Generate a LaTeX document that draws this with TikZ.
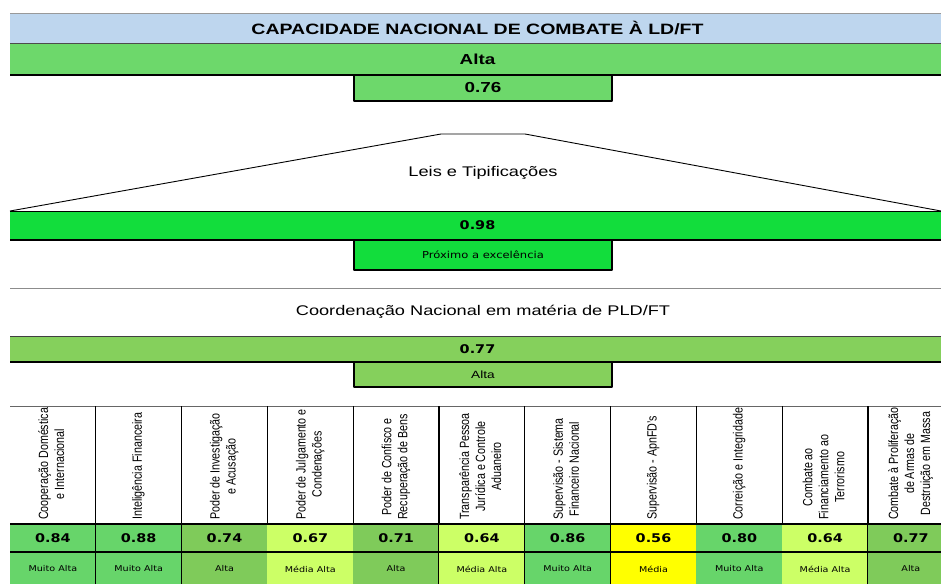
\documentclass[tikz,border=0pt]{standalone}
\usepackage{fontspec}
\setmainfont{Liberation Sans}
\newfontfamily\largo[FakeStretch=1.3]{Liberation Sans}
\newfontfamily\verd[FakeStretch=1.2]{DejaVu Sans}
\usetikzlibrary{positioning}
\definecolor{azul}{HTML}{BED6EE}
\definecolor{verdeT}{HTML}{6DD86B}
\definecolor{verdeL}{HTML}{12DD3C}
\definecolor{verdeC}{HTML}{85D05C}
\definecolor{muitoalta}{HTML}{67D56A}
\definecolor{alta}{HTML}{7FCB5A}
\definecolor{mediaalta}{HTML}{CCFF66}
\definecolor{media}{HTML}{FFFF00}
\tikzset{
  faixa/.style={anchor=north west, minimum width=935pt, inner sep=0pt, outer sep=0pt},
  caixa/.style={draw=black, line width=1.2pt, anchor=north west, minimum width=258pt, inner sep=0pt, outer sep=0pt},
  titulo/.style={font=\largo\fontsize{14}{17}\selectfont},
  negrito/.style={font=\largo\bfseries\fontsize{14.5}{17}\selectfont},
  valor/.style={font=\verd\bfseries\fontsize{12}{14}\selectfont},
  vert/.style={rotate=90, anchor=west, inner sep=1pt, font=\fontsize{10.7}{12.8}\selectfont},
}
\newcommand\cabtexto[1]{\scalebox{1}[1.25]{\begin{tabular}{@{}c@{}}#1\end{tabular}}}
\begin{document}
\begin{tikzpicture}[x=1pt, y=-1pt, line join=round]
  \useasboundingbox[fill=white] (0,0) rectangle (941,584);
  % cabecalho
  \node[faixa, negrito, fill=azul, minimum height=30pt, font=\largo\bfseries\fontsize{15}{17}\selectfont] (cap) at (10,13) {CAPACIDADE NACIONAL DE COMBATE À LD/FT};
  \node[faixa, negrito, fill=verdeT, minimum height=32pt] (nivel) at (10,43) {Alta};
  \draw[black!40] (cap.north west) -- (cap.north east);
  \draw[black!70] (cap.south west) -- (cap.south east);
  \draw[line width=1.2pt] (nivel.south west) -- (nivel.south east);
  \node[caixa, negrito, fill=verdeT, minimum height=26pt] (indice) at (354,75) {0.76};
  % leis
  \coordinate (ta) at (10,211);
  \coordinate (tb) at (441,134);
  \coordinate (tc) at (525,134);
  \coordinate (td) at (941,211);
  \draw[line width=.9pt] (ta) -- (tb) -- (tc) -- (td);
  \node[titulo] (leis) at (483,173) {Leis e Tipificações};
  \node[faixa, valor, fill=verdeL, minimum height=29pt] (leisv) at (ta) {0.98};
  \draw[line width=1pt] (leisv.north west) -- (leisv.north east);
  \draw[line width=1.2pt] (leisv.south west) -- (leisv.south east);
  \node[caixa, fill=verdeL, minimum height=30pt, font=\verd\fontsize{9.6}{11}\selectfont] (leisq) at (354,240) {Próximo a excelência};
  \draw[black!45] (10,288) -- (941,288);
  % coordenacao
  \node[titulo] (coord) at (483,312) {Coordenação Nacional em matéria de PLD/FT};
  \node[faixa, valor, fill=verdeC, minimum height=26pt] (coordv) at (10,336) {0.77};
  \draw[black!75] (coordv.north west) -- (coordv.north east);
  \draw[line width=1.2pt] (coordv.south west) -- (coordv.south east);
  \node[caixa, fill=verdeC, minimum height=25pt, font=\largo\fontsize{10.5}{12}\selectfont] (coordq) at (354,362) {Alta};
  % tabela
  \pgfmathsetmacro\larg{85.8}
  \draw[black!60] (10,406) -- (941,406);
  \foreach \t/\v/\q/\c [count=\i from 0] in {
      {Cooperação Doméstica\\e Internacional}/0.84/Muito Alta/muitoalta,
      {Inteligência Financeira}/0.88/Muito Alta/muitoalta,
      {Poder de Investigação\\e Acusação}/0.74/Alta/alta,
      {Poder de Julgamento e\\Condenações}/0.67/Média Alta/mediaalta,
      {Poder de Confisco e\\Recuperação de Bens}/0.71/Alta/alta,
      {Transparência Pessoa\\Jurídica e Controle\\Aduaneiro}/0.64/Média Alta/mediaalta,
      {Supervisão - Sistema\\Financeiro Nacional}/0.86/Muito Alta/muitoalta,
      {Supervisão - ApnFD's}/0.56/Média/media,
      {Correição e Integridade}/0.80/Muito Alta/muitoalta,
      {Combate ao\\Financiamento ao\\Terrorismo}/0.64/Média Alta/mediaalta,
      {Combate à Proliferação\\de Armas de\\Destruição em Massa}/0.77/Alta/alta} {
    \pgfmathsetmacro\xa{10+\larg*\i}
    \pgfmathsetmacro\xm{\xa+\larg/2}
    \fill[\c] (\xa,524) rectangle ++(\larg,60);
    \node[vert] (cab\i) at (\xm,521) {\cabtexto{\t}};
    \node[valor] (val\i) at (\xm,538) {\v};
    \node[font=\verd\fontsize{8}{10}\selectfont] (qual\i) at (\xm,569) {\q};
    \draw[line width=1.2pt] (\xa+\larg,406) -- ++(0,178);
  }
  \draw[line width=1.2pt] (10,524) -- (941,524) (10,552) -- (941,552);
\end{tikzpicture}
\end{document}
